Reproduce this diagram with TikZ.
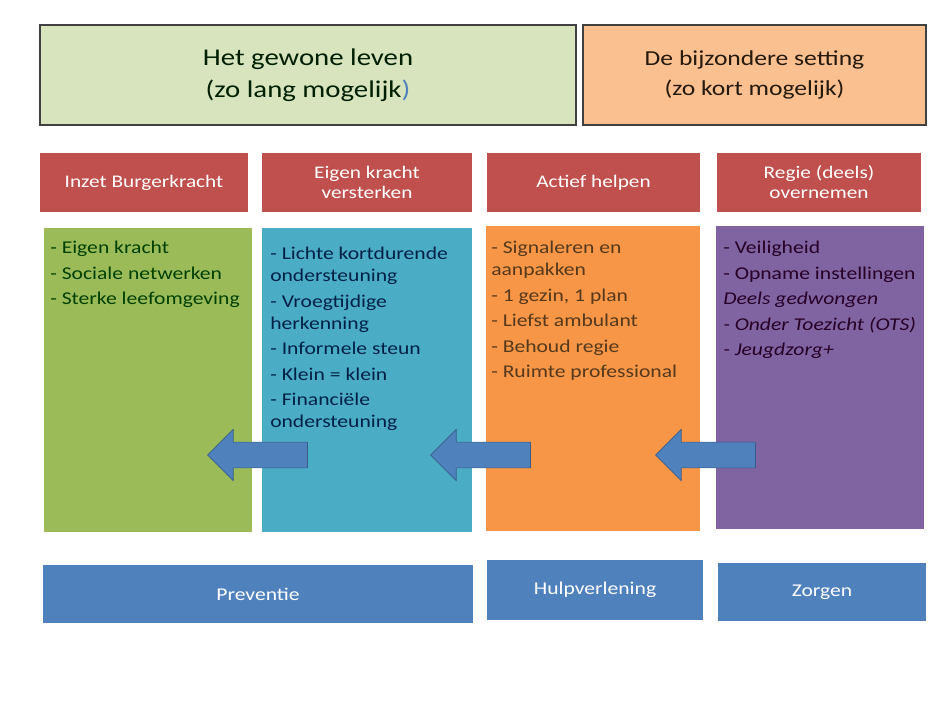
\documentclass[tikz,border=0pt]{standalone}
\usepackage{fontspec}
\setmainfont{Carlito}[FakeStretch=1.2]
\usetikzlibrary{shapes.arrows}

\definecolor{lichtgroen}{RGB}{215,228,189}
\definecolor{lichtoranje}{RGB}{250,192,144}
\definecolor{kopsrood}{RGB}{192,80,77}
\definecolor{groen}{RGB}{155,187,89}
\definecolor{turkoois}{RGB}{75,172,198}
\definecolor{oranje}{RGB}{247,150,70}
\definecolor{paars}{RGB}{128,100,162}
\definecolor{blauw}{RGB}{79,129,189}
\definecolor{donkerblauw}{RGB}{56,93,138}

\tikzset{
  blok/.style={rectangle, inner sep=0pt, align=center},
  boven/.style={blok, draw=black!75, line width=1.2pt},
  kop/.style={blok, fill=kopsrood, text=white, minimum height=44.25pt,
    font=\fontsize{13.3}{15}\selectfont},
  kolom/.style={blok, minimum height=228pt},
  opsom/.style={anchor=north west, inner sep=0pt, align=left,
    font=\fontsize{13.5}{16.5}\selectfont},
  onder/.style={blok, fill=blauw, text=white,
    font=\fontsize{13.5}{16}\selectfont},
  pijl/.style={single arrow, shape border rotate=180, fill=blauw,
    draw=donkerblauw, line width=0.5pt, inner sep=9.4pt,
    single arrow head extend=9.6pt, minimum height=75pt}
}

\begin{document}
\begin{tikzpicture}[x=0.75pt,y=-0.75pt]
  \useasboundingbox (0,0) rectangle (931,706);

  \node [boven, fill=lichtgroen, text=black!70!green!40!black,
    minimum width=402pt, minimum height=75pt,
    font=\fontsize{18}{24}\selectfont] (gewoon) at (308,75)
    {Het gewone leven\\(zo lang mogelijk\textcolor{blauw}{)}};
  \node [boven, fill=lichtoranje, text=black!80!brown,
    minimum width=257.25pt, minimum height=75pt,
    font=\fontsize{16}{22.5}\selectfont] (bijzonder) at (754.5,75)
    {De bijzondere setting\\(zo kort mogelijk)};

  \node [kop, minimum width=156pt] (burger) at (144,182.5) {Inzet Burgerkracht};
  \node [kop, minimum width=157.5pt] (versterken) at (367,182.5) {Eigen kracht\\versterken};
  \node [kop, minimum width=159.75pt] (helpen) at (593.5,182.5) {Actief helpen};
  \node [kop, minimum width=153pt] (regie) at (819,182.5) {Regie (deels)\\overnemen};

  \node [kolom, fill=groen, minimum width=156pt] (kol1) at (148,380) {};
  \node [kolom, fill=turkoois, minimum width=157.5pt] (kol2) at (367,380) {};
  \node [kolom, fill=oranje, minimum width=160.5pt, minimum height=228.75pt] (kol3) at (593,378.5) {};
  \node [kolom, fill=paars, minimum width=156pt, minimum height=227.25pt] (kol4) at (820,377.5) {};

  \node [opsom, text=green!25!black] (tekst1) at (50,241)
    {- Eigen kracht\\[2.6pt]- Sociale netwerken\\[2.6pt]- Sterke leefomgeving};
  \node [opsom, text=blue!35!teal!40!black] (tekst2) at (270,247)
    {- Lichte kortdurende\\ondersteuning\\[2.6pt]- Vroegtijdige\\herkenning\\[2.6pt]- Informele steun\\[2.6pt]- Klein = klein\\[2.6pt]- Financiële\\ondersteuning};
  \node [opsom, text=brown!45!black] (tekst3) at (491,241)
    {- Signaleren en\\aanpakken\\[2.6pt]- 1 gezin, 1 plan\\[2.6pt]- Liefst ambulant\\[2.6pt]- Behoud regie\\[2.6pt]- Ruimte professional};
  \node [opsom, text=violet!30!black] (tekst4) at (723,241)
    {- Veiligheid\\[2.6pt]- Opname instellingen\\[2.6pt]\textit{Deels gedwongen}\\[2.6pt]\textit{- Onder Toezicht (OTS)}\\[2.6pt]\textit{- Jeugdzorg+}};

  \node [pijl] (pijl1) at (264,455) {};
  \node [pijl] (pijl2) at (487,455) {};
  \node [pijl] (pijl3) at (712,455) {};

  \node [onder, minimum width=322.5pt, minimum height=43.5pt] (preventie) at (258,594) {Preventie};
  \node [onder, minimum width=162pt, minimum height=45pt] (hulp) at (595,590) {Hulpverlening};
  \node [onder, minimum width=156pt, minimum height=43.5pt] (zorgen) at (822,592) {Zorgen};
\end{tikzpicture}
\end{document}
